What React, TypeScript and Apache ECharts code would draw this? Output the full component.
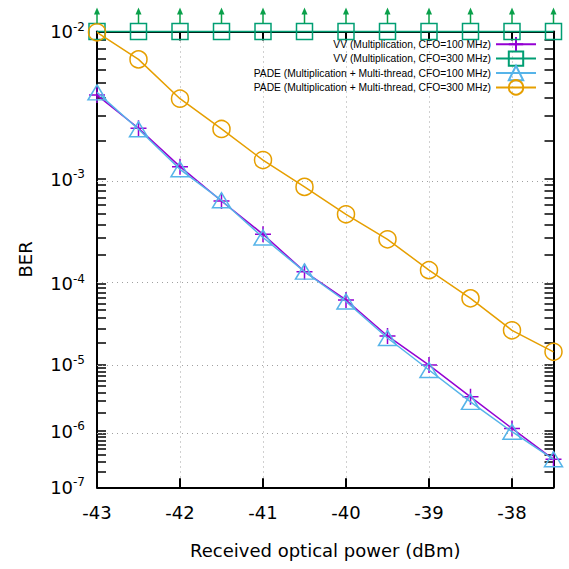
import React, { useEffect, useRef } from 'react';
import * as echarts from 'echarts';

const xValues = [-43, -42.5, -42, -41.5, -41, -40.5, -40, -39.5, -39, -38.5, -38, -37.5];
const berVV100 = [4.15e-3, 2.46e-3, 1.26e-3, 6.5e-4, 3.22e-4, 1.35e-4, 6.56e-5, 2.41e-5, 9.95e-6, 3.48e-6, 1.11e-6, 3.3e-7];
const berVV300 = [1e-2, 1e-2, 1e-2, 1e-2, 1e-2, 1e-2, 1e-2, 1e-2, 1e-2, 1e-2, 1e-2, 1e-2];
const berPade100 = [4.32e-3, 2.42e-3, 1.2e-3, 6.6e-4, 3.0e-4, 1.35e-4, 6.3e-5, 2.27e-5, 8.5e-6, 2.92e-6, 9.8e-7, 3.3e-7];
const berPade300 = [9.9e-3, 6.93e-3, 3.93e-3, 2.43e-3, 1.42e-3, 8.6e-4, 4.95e-4, 2.88e-4, 1.4e-4, 6.85e-5, 2.84e-5, 1.5e-5];

const seriesNames = [
  'VV (Multiplication, CFO=100 MHz)',
  'VV (Multiplication, CFO=300 MHz)',
  'PADE (Multiplication + Multi-thread, CFO=100 MHz)',
  'PADE (Multiplication + Multi-thread, CFO=300 MHz)',
];
const xTickValues = [-43, -42, -41, -40, -39, -38];
const yTickExponents = [2, 3, 4, 5, 6, 7];

const COLORS = ['#9400d3', '#009e73', '#56b4e9', '#e69f00'];
const ARROW_COLOR = '#0aa04a';
const AXIS_FONT = 'DejaVu Sans';

// BER axis: log10(-log10(BER))
const T = (b: number) => Math.log10(-Math.log10(b));

export default function App() {
  const ref = useRef<HTMLDivElement>(null);
  useEffect(() => {
    const chart = echarts.init(ref.current!, null, { renderer: 'svg' });
    const yMajor = yTickExponents.map((e) => Math.log10(e));
    const yMinor: number[] = [];
    for (let e = 2; e < 7; e++) {
      for (let m = 2; m <= 9; m++) yMinor.push(Math.log10(e + 1 - Math.log10(m)));
    }
    const yTicks = [...yMajor, ...yMinor].sort((a, b) => a - b);
    const yMin = yMajor[0];
    const yMax = yMajor[yMajor.length - 1];

    const gridLine = { color: '#a0a0a0', width: 1, type: [1, 4] as any };

    const xAxisBase = {
      type: 'value',
      min: -43,
      max: -37.5,
      interval: 1,
      axisLine: { show: true, onZero: false, lineStyle: { color: '#000', width: 2 } },
      axisTick: { show: true, inside: true, length: 9, customValues: xTickValues, lineStyle: { color: '#000', width: 2 } },
    };
    const yAxisBase = {
      type: 'value',
      min: yMin,
      max: yMax,
      inverse: true,
      axisLine: { show: true, onZero: false, lineStyle: { color: '#000', width: 2 } },
      axisTick: { show: true, inside: true, length: 9, customValues: yTicks, lineStyle: { color: '#000', width: 1.5 } },
      splitLine: { show: false },
    };

    const mk = (ber: number[]) => xValues.map((x, i) => [x, T(ber[i])]);

    const option: any = {
      animation: false,
      backgroundColor: '#fff',
      grid: { left: 97, right: 15.5, top: 31.5, bottom: 81.7, containLabel: false, outerBoundsMode: 'none' },
      legend: {
        orient: 'vertical',
        right: 32,
        top: 36,
        align: 'right',
        itemWidth: 40,
        itemHeight: 18,
        itemGap: -2,
        padding: 0,
        selectedMode: false,
        textStyle: { fontFamily: 'Liberation Sans', fontSize: 10.3, color: '#000' },
        data: seriesNames,
      },
      xAxis: [
        {
          ...xAxisBase,
          position: 'bottom',
          name: 'Received optical power (dBm)',
          nameLocation: 'middle',
          nameGap: 54,
          nameTextStyle: { fontFamily: AXIS_FONT, fontSize: 18, color: '#000' },
          axisLabel: {
            show: true,
            margin: 16,
            customValues: xTickValues,
            fontFamily: AXIS_FONT,
            fontSize: 18,
            color: '#000',
          },
          splitLine: { show: true, lineStyle: gridLine },
        },
        {
          ...xAxisBase,
          position: 'top',
          axisLabel: { show: false },
          splitLine: { show: false },
        },
      ],
      yAxis: [
        {
          ...yAxisBase,
          position: 'left',
          name: 'BER',
          nameLocation: 'middle',
          nameGap: 63,
          nameRotate: 90,
          nameTextStyle: { fontFamily: AXIS_FONT, fontSize: 18, color: '#000' },
          axisLabel: {
            show: true,
            margin: 12,
            customValues: yMajor,
            formatter: (v: number) => `{b|10}{s|-${Math.round(Math.pow(10, v))}}`,
            rich: {
              b: { fontFamily: AXIS_FONT, fontSize: 18, color: '#000', lineHeight: 22 },
              s: { fontFamily: AXIS_FONT, fontSize: 12, color: '#000', lineHeight: 14, verticalAlign: 'top' },
            },
          },
        },
        {
          ...yAxisBase,
          position: 'right',
          axisLabel: { show: false },
        },
      ],
      series: [
        {
          name: seriesNames[0],
          type: 'line',
          clip: false,
          data: mk(berVV100),
          symbol: 'path://M0,6L12,6M6,0L6,12',
          symbolSize: 16,
          lineStyle: { color: COLORS[0], width: 1.5 },
          itemStyle: { color: 'rgba(0,0,0,0)', borderColor: COLORS[0], borderWidth: 1.5 },
          markLine: {
            silent: true,
            symbol: ['none', 'none'],
            label: { show: false },
            lineStyle: gridLine,
            data: yMajor.slice(1, -1).map((v) => ({ yAxis: v })),
          },
          z: 3,
        },
        {
          name: seriesNames[1],
          type: 'line',
          clip: false,
          data: mk(berVV300),
          symbol: 'rect',
          symbolSize: 16,
          lineStyle: { color: COLORS[1], width: 1.5 },
          itemStyle: { color: 'rgba(0,0,0,0)', borderColor: COLORS[1], borderWidth: 1.5 },
          z: 4,
        },
        {
          name: seriesNames[2],
          type: 'line',
          clip: false,
          data: mk(berPade100),
          symbol: 'triangle',
          symbolSize: [18, 15],
          lineStyle: { color: COLORS[2], width: 1.5 },
          itemStyle: { color: 'rgba(0,0,0,0)', borderColor: COLORS[2], borderWidth: 1.5 },
          z: 5,
        },
        {
          name: seriesNames[3],
          type: 'line',
          clip: false,
          data: mk(berPade300),
          symbol: 'circle',
          symbolSize: 17,
          lineStyle: { color: COLORS[3], width: 1.5 },
          itemStyle: { color: 'rgba(0,0,0,0)', borderColor: COLORS[3], borderWidth: 1.5 },
          z: 6,
        },
        {
          name: 'arrows',
          type: 'custom',
          clip: false,
          silent: true,
          data: mk(berVV300),
          encode: { x: 0, y: 1 },
          renderItem: (params: any, api: any) => {
            const p = api.coord([api.value(0), api.value(1)]);
            return {
              type: 'group',
              children: [
                {
                  type: 'line',
                  shape: { x1: p[0], y1: p[1] - 8, x2: p[0], y2: p[1] - 19 },
                  style: { stroke: ARROW_COLOR, lineWidth: 1.5 },
                },
                {
                  type: 'polygon',
                  shape: { points: [[p[0] - 3, p[1] - 17], [p[0] + 3, p[1] - 17], [p[0], p[1] - 24]] },
                  style: { fill: ARROW_COLOR },
                },
              ],
            };
          },
          z: 7,
        },
      ],
    };
    chart.setOption(option);
    return () => chart.dispose();
  }, []);
  return (
    <div
      ref={ref}
      style={{ position: 'fixed', left: 0, top: 0, width: 569, height: 569, background: '#fff' }}
    />
  );
}
